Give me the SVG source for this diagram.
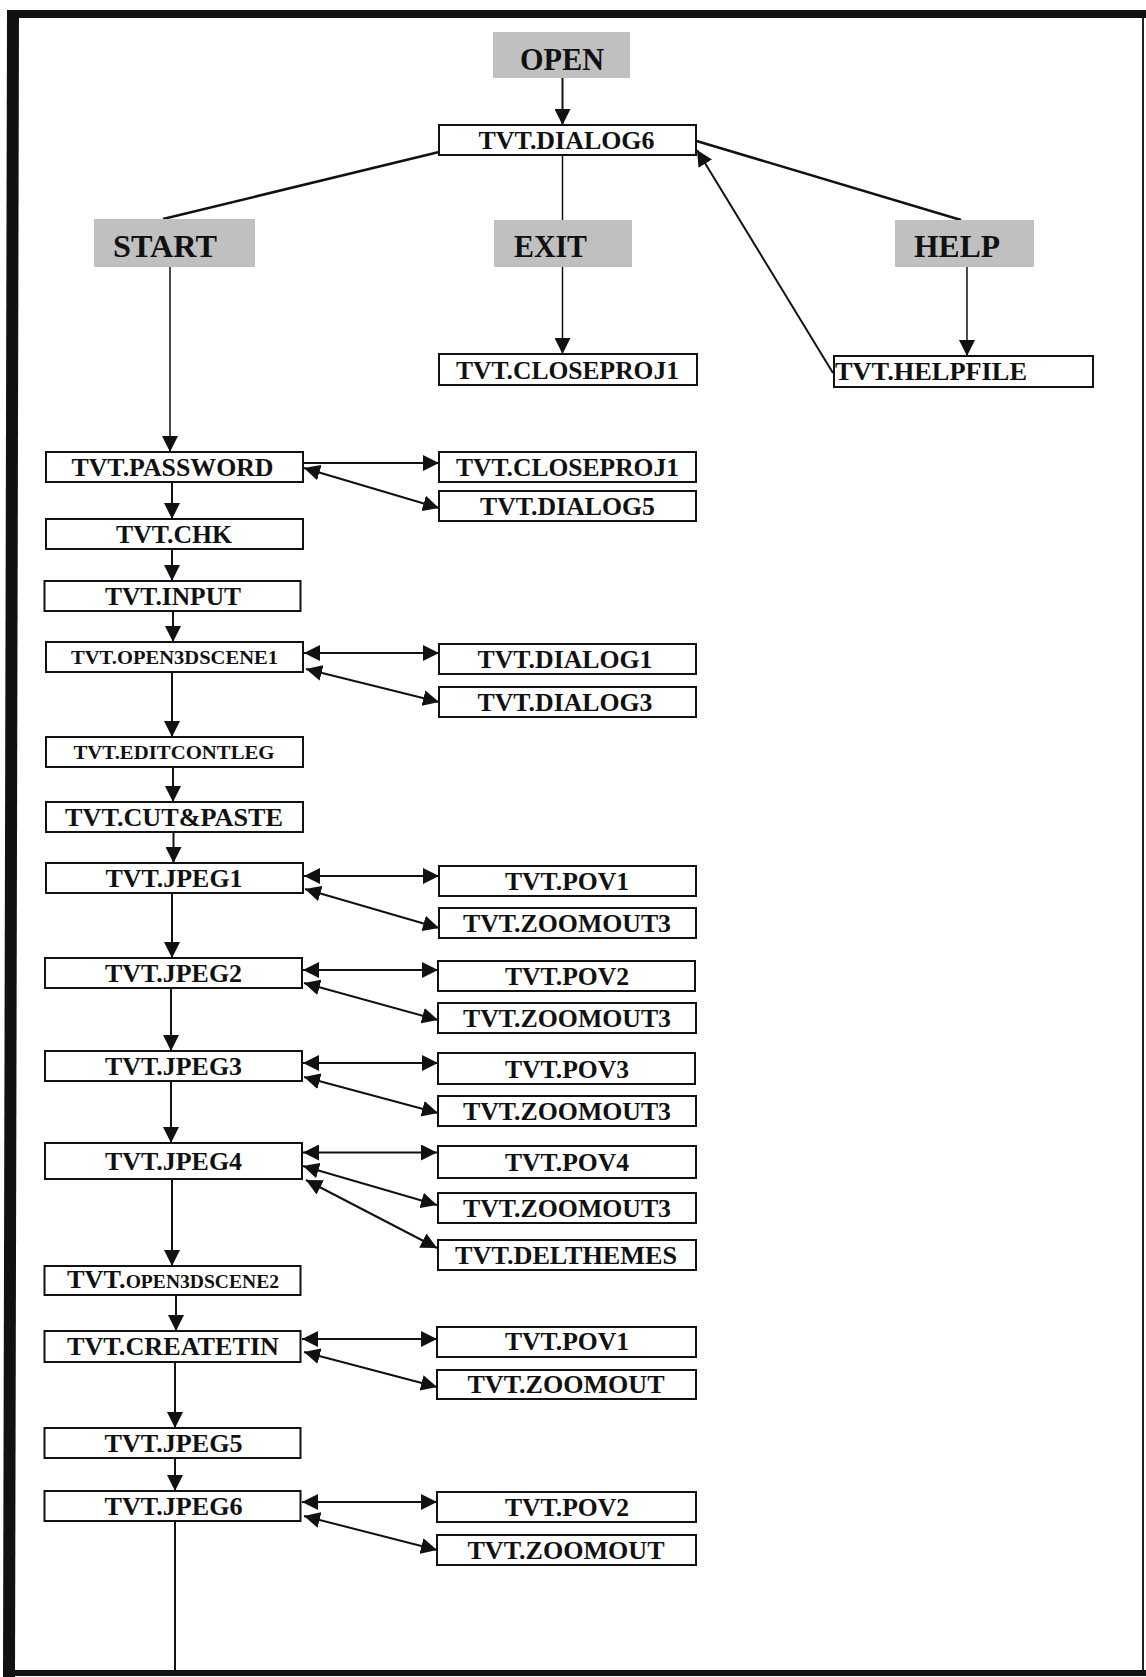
<svg xmlns="http://www.w3.org/2000/svg" width="1146" height="1677" viewBox="0 0 1146 1677">
<style>
.box{fill:#fff;stroke:#111;stroke-width:2}
.gbox{fill:#c0c0c0;stroke:none}
.t{font-family:"Liberation Serif","Times New Roman",serif;font-weight:bold;font-size:25.5px;text-anchor:middle;fill:#111}
.g{font-size:31px}
.s{font-size:19px}
.c{stroke:#111;stroke-width:2;fill:none}
.a{marker-end:url(#ah)}
.b{marker-end:url(#ah);marker-start:url(#ah)}
</style>
<defs>
<marker id="ah" markerUnits="userSpaceOnUse" markerWidth="17" markerHeight="16" refX="16" refY="8" orient="auto-start-reverse" viewBox="0 0 17 16">
<path d="M0,0 L16,8 L0,16 z" fill="#111"/>
</marker>
</defs>
<rect width="1146" height="1677" fill="#fff"/>
<g id="frame">
<rect x="7" y="10" width="1139" height="8" fill="#111"/>
<path d="M7,10 L19,10 L15,1677 L3,1677 z" fill="#111"/>
<rect x="1142" y="18" width="2" height="1654" fill="#222"/>
<rect x="3" y="1670" width="1143" height="6" fill="#111"/>
</g>
<g id="connectors">
<line class="c a" x1="562.5" y1="78" x2="562.5" y2="125"/>
<line class="c" x1="562.5" y1="155" x2="562.5" y2="220" style="stroke-width:1.5"/>
<line class="c a" x1="562.5" y1="267" x2="562.5" y2="354" style="stroke-width:1.5"/>
<line class="c" x1="439" y1="152" x2="163" y2="219" style="stroke-width:2.5"/>
<line class="c" x1="696.5" y1="141" x2="961" y2="220" style="stroke-width:2.5"/>
<line class="c a" x1="967" y1="267" x2="967" y2="356" style="stroke-width:1.5"/>
<line class="c a" x1="833" y1="373" x2="697" y2="150"/>
<line class="c a" x1="170" y1="267" x2="170" y2="452" style="stroke-width:1.5"/>
<line class="c a" x1="172" y1="482" x2="172" y2="519"/>
<line class="c a" x1="172" y1="549" x2="172" y2="581"/>
<line class="c a" x1="173" y1="611" x2="173" y2="642"/>
<line class="c a" x1="172" y1="672" x2="172" y2="737"/>
<line class="c a" x1="173" y1="767" x2="173" y2="802"/>
<line class="c a" x1="173.5" y1="832" x2="173.5" y2="863"/>
<line class="c a" x1="172" y1="893" x2="172" y2="958"/>
<line class="c a" x1="171" y1="988" x2="171" y2="1051"/>
<line class="c a" x1="171" y1="1081" x2="171" y2="1143"/>
<line class="c a" x1="172" y1="1179" x2="172" y2="1266"/>
<line class="c a" x1="176" y1="1295" x2="176" y2="1331"/>
<line class="c a" x1="175" y1="1362" x2="175" y2="1428"/>
<line class="c a" x1="175" y1="1458" x2="175" y2="1491"/>
<line class="c" x1="175" y1="1521" x2="175" y2="1671"/>
<line class="c a" x1="303" y1="463" x2="439" y2="463"/>
<line class="c b" x1="304" y1="468" x2="439" y2="508"/>
<line class="c b" x1="304" y1="653" x2="439" y2="653"/>
<line class="c b" x1="306" y1="669" x2="439" y2="702"/>
<line class="c b" x1="304" y1="876" x2="439" y2="876"/>
<line class="c b" x1="305" y1="889" x2="439" y2="928"/>
<line class="c b" x1="303" y1="970" x2="438" y2="970"/>
<line class="c b" x1="304" y1="983" x2="438" y2="1020"/>
<line class="c b" x1="303" y1="1063" x2="438" y2="1063"/>
<line class="c b" x1="304" y1="1077" x2="438" y2="1113"/>
<line class="c b" x1="303" y1="1152.5" x2="437" y2="1152.5"/>
<line class="c b" x1="303" y1="1166" x2="437" y2="1205"/>
<line class="c b" x1="306" y1="1180" x2="437" y2="1248"/>
<line class="c b" x1="302" y1="1339" x2="437" y2="1339"/>
<line class="c b" x1="304" y1="1352" x2="437" y2="1387"/>
<line class="c b" x1="302" y1="1502" x2="437" y2="1502"/>
<line class="c b" x1="304" y1="1516" x2="437" y2="1550"/>
</g>
<g id="n-open"><rect class="gbox" x="493" y="32" width="137" height="46"/><text class="t g" x="562" y="70" textLength="84" lengthAdjust="spacingAndGlyphs">OPEN</text></g>
<g id="n-dialog6"><rect class="box" x="439" y="125" width="257" height="30"/><text class="t" x="566.5" y="149" textLength="176" lengthAdjust="spacingAndGlyphs">TVT.DIALOG6</text></g>
<g id="n-start"><rect class="gbox" x="94" y="219" width="161" height="48"/><text class="t g" x="165" y="257" textLength="104" lengthAdjust="spacingAndGlyphs">START</text></g>
<g id="n-exit"><rect class="gbox" x="494" y="220" width="138" height="47"/><text class="t g" x="550.5" y="257" textLength="73" lengthAdjust="spacingAndGlyphs">EXIT</text></g>
<g id="n-help"><rect class="gbox" x="895" y="220" width="139" height="47"/><text class="t g" x="957" y="257" textLength="86" lengthAdjust="spacingAndGlyphs">HELP</text></g>
<g id="n-closeproj1-a"><rect class="box" x="439" y="354" width="258" height="31"/><text class="t" x="567.5" y="379" textLength="223" lengthAdjust="spacingAndGlyphs">TVT.CLOSEPROJ1</text></g>
<g id="n-helpfile"><rect class="box" x="834" y="356" width="259" height="31"/><text class="t" x="835" y="380" style="text-anchor:start" textLength="192" lengthAdjust="spacingAndGlyphs">TVT.HELPFILE</text></g>
<g id="n-password"><rect class="box" x="46" y="452" width="257" height="30"/><text class="t" x="172.5" y="476" textLength="202" lengthAdjust="spacingAndGlyphs">TVT.PASSWORD</text></g>
<g id="n-closeproj1-b"><rect class="box" x="439" y="452" width="257" height="30"/><text class="t" x="567.5" y="476" textLength="223" lengthAdjust="spacingAndGlyphs">TVT.CLOSEPROJ1</text></g>
<g id="n-dialog5"><rect class="box" x="439" y="491" width="257" height="30"/><text class="t" x="567.5" y="515" textLength="175" lengthAdjust="spacingAndGlyphs">TVT.DIALOG5</text></g>
<g id="n-chk"><rect class="box" x="46" y="519" width="257" height="30"/><text class="t" x="174" y="543" textLength="116" lengthAdjust="spacingAndGlyphs">TVT.CHK</text></g>
<g id="n-input"><rect class="box" x="44.5" y="581" width="256" height="30"/><text class="t" x="173" y="605" textLength="136" lengthAdjust="spacingAndGlyphs">TVT.INPUT</text></g>
<g id="n-open3dscene1"><rect class="box" x="46" y="642" width="257" height="30"/><text class="t s" x="174.5" y="664" textLength="207" lengthAdjust="spacingAndGlyphs">TVT.OPEN3DSCENE1</text></g>
<g id="n-dialog1"><rect class="box" x="439" y="644" width="257" height="30"/><text class="t" x="565" y="668" textLength="175" lengthAdjust="spacingAndGlyphs">TVT.DIALOG1</text></g>
<g id="n-dialog3"><rect class="box" x="439" y="687" width="257" height="30"/><text class="t" x="565" y="711" textLength="175" lengthAdjust="spacingAndGlyphs">TVT.DIALOG3</text></g>
<g id="n-editcontleg"><rect class="box" x="46" y="737" width="257" height="30"/><text class="t s" x="174" y="759" textLength="201" lengthAdjust="spacingAndGlyphs">TVT.EDITCONTLEG</text></g>
<g id="n-cutpaste"><rect class="box" x="46" y="802" width="257" height="30"/><text class="t" x="174" y="826" textLength="218" lengthAdjust="spacingAndGlyphs">TVT.CUT&amp;PASTE</text></g>
<g id="n-jpeg1"><rect class="box" x="46" y="863" width="257" height="30"/><text class="t" x="174" y="887" textLength="137" lengthAdjust="spacingAndGlyphs">TVT.JPEG1</text></g>
<g id="n-pov1-a"><rect class="box" x="439" y="866" width="257" height="30"/><text class="t" x="567" y="890" textLength="124" lengthAdjust="spacingAndGlyphs">TVT.POV1</text></g>
<g id="n-zoomout3-a"><rect class="box" x="439" y="908" width="257" height="30"/><text class="t" x="567" y="932" textLength="208" lengthAdjust="spacingAndGlyphs">TVT.ZOOMOUT3</text></g>
<g id="n-jpeg2"><rect class="box" x="45" y="958" width="257" height="30"/><text class="t" x="173.5" y="982" textLength="137" lengthAdjust="spacingAndGlyphs">TVT.JPEG2</text></g>
<g id="n-pov2-a"><rect class="box" x="438" y="961" width="257" height="30"/><text class="t" x="567" y="985" textLength="124" lengthAdjust="spacingAndGlyphs">TVT.POV2</text></g>
<g id="n-zoomout3-b"><rect class="box" x="438" y="1003" width="258" height="30"/><text class="t" x="567" y="1027" textLength="208" lengthAdjust="spacingAndGlyphs">TVT.ZOOMOUT3</text></g>
<g id="n-jpeg3"><rect class="box" x="45" y="1051" width="257" height="30"/><text class="t" x="173.5" y="1075" textLength="137" lengthAdjust="spacingAndGlyphs">TVT.JPEG3</text></g>
<g id="n-pov3"><rect class="box" x="438" y="1053" width="257" height="31"/><text class="t" x="567" y="1078" textLength="124" lengthAdjust="spacingAndGlyphs">TVT.POV3</text></g>
<g id="n-zoomout3-c"><rect class="box" x="438" y="1096" width="258" height="30"/><text class="t" x="567" y="1120" textLength="208" lengthAdjust="spacingAndGlyphs">TVT.ZOOMOUT3</text></g>
<g id="n-jpeg4"><rect class="box" x="45" y="1143" width="257" height="36"/><text class="t" x="173.5" y="1170" textLength="137" lengthAdjust="spacingAndGlyphs">TVT.JPEG4</text></g>
<g id="n-pov4"><rect class="box" x="438" y="1146" width="258" height="32"/><text class="t" x="567" y="1171" textLength="124" lengthAdjust="spacingAndGlyphs">TVT.POV4</text></g>
<g id="n-zoomout3-d"><rect class="box" x="438" y="1193" width="258" height="30"/><text class="t" x="567" y="1217" textLength="208" lengthAdjust="spacingAndGlyphs">TVT.ZOOMOUT3</text></g>
<g id="n-delthemes"><rect class="box" x="438" y="1240" width="258" height="30"/><text class="t" x="566" y="1264" textLength="222" lengthAdjust="spacingAndGlyphs">TVT.DELTHEMES</text></g>
<g id="n-open3dscene2"><rect class="box" x="44.5" y="1266" width="256" height="29"/><text class="t" x="173" y="1288" textLength="212" lengthAdjust="spacingAndGlyphs">TVT.<tspan class="s">OPEN3DSCENE2</tspan></text></g>
<g id="n-createtin"><rect class="box" x="44.5" y="1331" width="256" height="31"/><text class="t" x="173" y="1355" textLength="212" lengthAdjust="spacingAndGlyphs">TVT.CREATETIN</text></g>
<g id="n-pov1-b"><rect class="box" x="437" y="1327" width="259" height="30"/><text class="t" x="567" y="1350" textLength="124" lengthAdjust="spacingAndGlyphs">TVT.POV1</text></g>
<g id="n-zoomout-a"><rect class="box" x="437" y="1370" width="259" height="29"/><text class="t" x="566" y="1393" textLength="197" lengthAdjust="spacingAndGlyphs">TVT.ZOOMOUT</text></g>
<g id="n-jpeg5"><rect class="box" x="44.5" y="1428" width="256" height="30"/><text class="t" x="173.5" y="1452" textLength="138" lengthAdjust="spacingAndGlyphs">TVT.JPEG5</text></g>
<g id="n-jpeg6"><rect class="box" x="44.5" y="1491" width="256" height="30"/><text class="t" x="173.5" y="1515" textLength="138" lengthAdjust="spacingAndGlyphs">TVT.JPEG6</text></g>
<g id="n-pov2-b"><rect class="box" x="437" y="1492" width="259" height="30"/><text class="t" x="567" y="1516" textLength="124" lengthAdjust="spacingAndGlyphs">TVT.POV2</text></g>
<g id="n-zoomout-b"><rect class="box" x="437" y="1535" width="259" height="30"/><text class="t" x="566" y="1559" textLength="197" lengthAdjust="spacingAndGlyphs">TVT.ZOOMOUT</text></g>
</svg>
